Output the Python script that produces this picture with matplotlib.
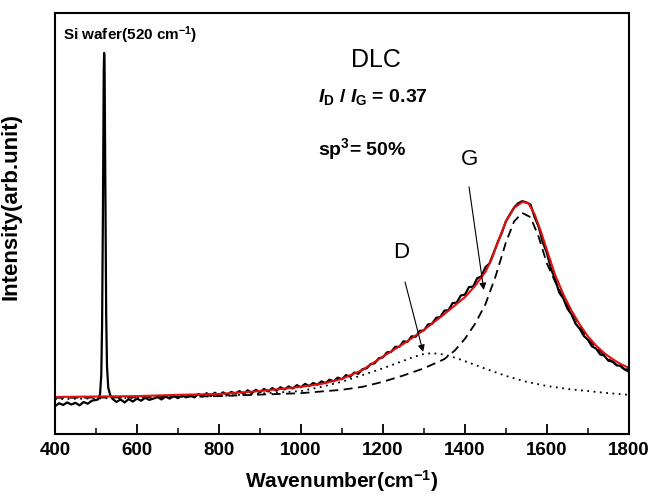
import matplotlib
matplotlib.use('Agg')
import matplotlib.pyplot as plt
from matplotlib.ticker import MultipleLocator

plt.rcParams['font.family'] = ['Liberation Sans', 'DejaVu Sans']
plt.rcParams['mathtext.fontset'] = 'custom'
plt.rcParams['mathtext.rm'] = 'Liberation Sans:bold'
plt.rcParams['mathtext.bf'] = 'Liberation Sans:bold'
plt.rcParams['mathtext.it'] = 'Liberation Sans:italic:bold'

# measured Raman spectrum (black)
raw_shift = [400, 410, 420, 430, 440, 450, 460, 470, 480, 490, 500, 505, 510, 513, 515,
             517, 518, 519, 520, 521, 522, 523, 525, 527, 530, 535, 540, 550, 560, 570,
             580, 590, 600, 610, 620, 630, 640, 650, 660, 670, 680, 690, 700, 710, 720,
             730, 740, 750, 760, 770, 780, 790, 800, 810, 820, 830, 840, 850, 860, 870,
             880, 890, 900, 910, 920, 930, 940, 950, 960, 970, 980, 990, 1000, 1010, 1020,
             1030, 1040, 1050, 1060, 1070, 1080, 1090, 1100, 1110, 1120, 1130, 1140, 1150,
             1160, 1170, 1180, 1190, 1200, 1210, 1220, 1230, 1240, 1250, 1260, 1270, 1280,
             1290, 1300, 1310, 1320, 1330, 1340, 1350, 1360, 1370, 1380, 1390, 1400, 1410,
             1420, 1430, 1440, 1450, 1460, 1470, 1480, 1490, 1500, 1510, 1520, 1530, 1540,
             1550, 1560, 1570, 1580, 1590, 1600, 1610, 1620, 1630, 1640, 1650, 1660, 1670,
             1680, 1690, 1700, 1710, 1720, 1730, 1740, 1750, 1760, 1770, 1780, 1790, 1800]
raw_int = [66, 73, 69, 75, 70, 74, 68, 76, 72, 79, 81, 82, 95, 140, 260,
           520, 700, 860, 905, 880, 720, 520, 280, 160, 110, 92, 84, 76, 82, 75,
           83, 77, 84, 79, 86, 81, 84, 88, 82, 89, 84, 91, 85, 92, 87,
           93, 87, 95, 89, 97, 90, 98, 91, 99, 93, 100, 96, 102, 95, 104,
           97, 105, 99, 107, 101, 109, 103, 111, 106, 113, 108, 116, 111, 119, 114,
           121, 117, 125, 121, 129, 125, 134, 130, 140, 136, 146, 143, 154,
           156, 166, 168, 180, 182, 194, 195, 207, 207, 220, 219, 232, 231,
           245, 246, 260, 262, 276, 278, 293, 294, 311, 312, 329, 331, 349,
           350, 370, 374, 396, 405, 430, 455, 478, 505, 522, 538, 548, 553,
           550, 545, 515, 492, 455, 430, 392, 368, 336, 322, 298, 284, 262,
           250, 233, 224, 208, 203, 189, 186, 174, 172, 163, 162, 153, 154]

# fitted envelope (red)
fit_shift = [400, 500, 600, 700, 800, 900, 1000, 1050, 1100, 1150, 1200, 1250, 1300, 1350,
             1400, 1425, 1450, 1465, 1480, 1500, 1520, 1540, 1555, 1570, 1585, 1600, 1620,
             1640, 1660, 1680, 1700, 1720, 1740, 1760, 1780, 1800]
fit_int = [88, 89, 90, 93, 95, 102, 112, 119, 131, 152, 184, 214, 247, 285,
           325, 352, 385, 415, 455, 505, 537, 551, 548, 522, 482, 437, 378,
           332, 293, 260, 232, 210, 192, 178, 166, 157]

# G band component (dashed)
g_shift = [400, 600, 800, 1000, 1100, 1150, 1200, 1250, 1300, 1350, 1375, 1400, 1425,
           1450, 1475, 1500, 1520, 1540, 1560, 1580, 1600, 1620, 1650, 1700, 1750, 1800]
g_int = [86, 87, 90, 97, 105, 112, 124, 139, 156, 178, 198, 226, 262,
         308, 375, 455, 505, 525, 515, 468, 405, 362, 306, 225, 178, 147]

# D band component (dotted)
d_shift = [400, 600, 800, 1000, 1050, 1100, 1150, 1200, 1225, 1250, 1275, 1300, 1320,
           1340, 1360, 1380, 1400, 1425, 1450, 1500, 1550, 1600, 1650, 1700, 1750, 1800]
d_int = [83, 86, 90, 102, 112, 124, 140, 156, 165, 174, 183, 190, 192,
         190, 186, 180, 173, 164, 155, 138, 124, 114, 107, 102, 97, 93]

fig = plt.figure(figsize=(6.62, 4.98), dpi=100)
ax = fig.add_axes([0.083, 0.1285, 0.867, 0.8455])

ax.plot(raw_shift, raw_int, color='black', lw=1.6)
ax.plot(d_shift, d_int, color='black', lw=1.3, linestyle=(0, (1, 2.5)))
ax.plot(g_shift, g_int, color='black', lw=1.3, linestyle=(0, (5, 3)))
ax.plot(fit_shift, fit_int, color='#e01010', lw=1.5)

ax.set_xlim(400, 1800)
ax.set_ylim(0, 1000)
ax.xaxis.set_major_locator(MultipleLocator(200))
ax.xaxis.set_minor_locator(MultipleLocator(100))
ax.set_yticks([])
ax.tick_params(axis='x', which='major', direction='in', length=7, width=1.3,
               labelsize=13.5, pad=6)
ax.tick_params(axis='x', which='minor', direction='in', length=4, width=1.1)
for lbl in ax.get_xticklabels():
    lbl.set_fontweight('bold')
for sp in ax.spines.values():
    sp.set_linewidth(1.5)

ax.set_xlabel('Wavenumber(cm$^{-1}$)', fontsize=15, fontweight='bold', labelpad=6)
ax.set_ylabel('Intensity(arb.unit)', fontsize=16, fontweight='bold')
ax.yaxis.set_label_coords(-0.058, 0.54)

ax.text(420, 948, 'Si wafer(520 cm$^{-1}$)', fontsize=11, fontweight='bold',
        ha='left', va='center')
ax.text(1183, 888, 'DLC', fontsize=18, ha='center', va='center')
ax.text(1041, 800, r'$I_{\mathrm{D}}$ / $I_{\mathrm{G}}$ = 0.37', fontsize=14,
        fontweight='bold', ha='left', va='center')
ax.text(1041, 677, 'sp$^{3}$= 50%', fontsize=14, fontweight='bold',
        ha='left', va='center')
ax.text(1412, 651, 'G', fontsize=16, ha='center', va='center')
ax.text(1244, 430, 'D', fontsize=16, ha='center', va='center')

arrow = dict(arrowstyle='-|>', lw=0.8, color='black', mutation_scale=10,
             shrinkA=0, shrinkB=0)
ax.annotate('', xy=(1446, 342), xytext=(1410, 587), arrowprops=arrow)
ax.annotate('', xy=(1298, 195), xytext=(1254, 361), arrowprops=arrow)

fig.savefig('out.png', dpi=100)
